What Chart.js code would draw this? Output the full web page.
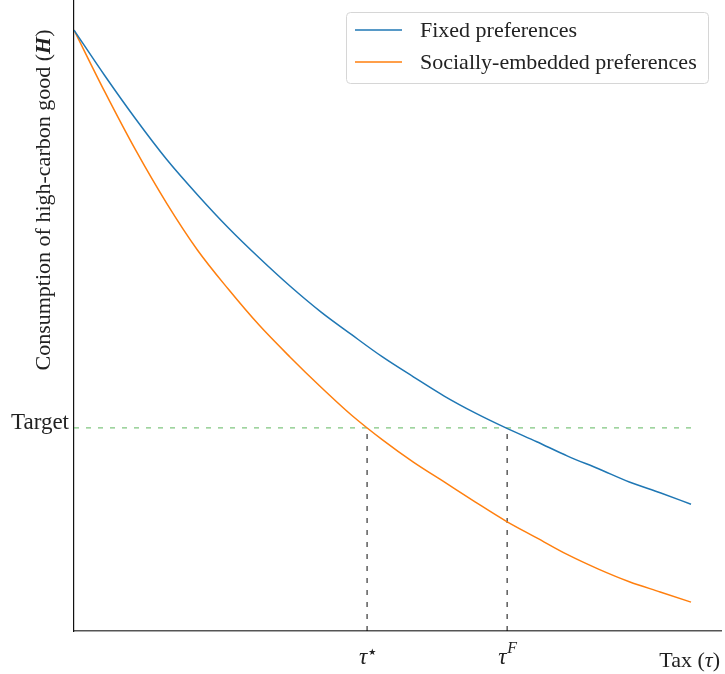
<!DOCTYPE html>
<html>
<head>
<meta charset="utf-8">
<script src="https://cdn.jsdelivr.net/npm/chart.js@4.4.1/dist/chart.umd.min.js"></script>
<style>
html,body{margin:0;padding:0;background:#fff;}
#wrap{width:725px;height:674px;}
</style>
</head>
<body>
<div id="wrap"><canvas id="c" width="725" height="674"></canvas></div>
<script>
// ---- data (tax tau normalised 0..1, consumption H normalised to 1 at tau=0)
const tax = [0,0.05,0.1,0.15,0.2,0.25,0.3,0.35,0.4,0.45,0.5,0.55,0.6,0.65,0.7,0.75,0.8,0.85,0.9,0.95,1.0];
const fixedPrefs = [1.000,0.924,0.852,0.785,0.726,0.671,0.621,0.574,0.531,0.493,0.456,0.423,0.391,0.363,0.338,0.315,0.291,0.270,0.248,0.230,0.211];
const socialPrefs = [1.000,0.897,0.800,0.712,0.634,0.569,0.509,0.456,0.406,0.359,0.318,0.281,0.248,0.215,0.183,0.155,0.127,0.103,0.082,0.065,0.048];
const target = 0.338;
const tauStar = 0.475;
const tauF = 0.702;
const seriesNames = ["Fixed preferences","Socially-embedded preferences"];
const xMax = 1.0486, yMax = 1.05;

const SERIF = '"Liberation Serif", "DejaVu Serif", serif';

function pts(xs, ys){ return xs.map((x,i)=>({x:x,y:ys[i]})); }

const annot = {
  id:'annot',
  afterDraw(chart){
    const ctx = chart.ctx, xs = chart.scales.x, ys = chart.scales.y, ca = chart.chartArea;
    ctx.save();
    ctx.fillStyle = '#222';
    // Target label
    ctx.font = '23px ' + SERIF;
    ctx.textAlign = 'right'; ctx.textBaseline = 'middle';
    ctx.fillText('Target', ca.left - 5, ys.getPixelForValue(target) - 5);
    // tau labels
    function tauLabel(x, sup, supFont, supDy){
      ctx.font = 'italic 23px ' + SERIF;
      const w1 = ctx.measureText('τ').width;
      ctx.font = supFont;
      const w2 = ctx.measureText(sup).width;
      const start = x - (w1 + w2)/2;
      ctx.textAlign = 'left'; ctx.textBaseline = 'alphabetic';
      ctx.font = 'italic 23px ' + SERIF;
      ctx.fillText('τ', start, 664);
      ctx.font = supFont;
      ctx.fillText(sup, start + w1 + 1, 664 + supDy);
    }
    tauLabel(xs.getPixelForValue(tauStar), '★', '9px "DejaVu Sans", sans-serif', -9);
    tauLabel(xs.getPixelForValue(tauF), 'F', 'italic 16px ' + SERIF, -11);
    // x title: Tax (tau)
    ctx.textBaseline = 'alphabetic'; ctx.textAlign = 'left';
    const parts = [['Tax (', '22px ' + SERIF], ['τ', 'italic 22px ' + SERIF], [')', '22px ' + SERIF]];
    let tw = 0; parts.forEach(p=>{ctx.font=p[1]; tw += ctx.measureText(p[0]).width;});
    let px = 720 - tw;
    parts.forEach(p=>{ctx.font=p[1]; ctx.fillText(p[0], px, 667); px += ctx.measureText(p[0]).width;});
    // y title
    ctx.translate(50, 200);
    ctx.rotate(-Math.PI/2);
    const yp = [['Consumption of high-carbon good (', '22px ' + SERIF], ['H', 'italic bold 22px ' + SERIF], [')', '22px ' + SERIF]];
    let yw = 0; yp.forEach(p=>{ctx.font=p[1]; yw += ctx.measureText(p[0]).width;});
    let qx = -yw/2;
    yp.forEach(p=>{ctx.font=p[1]; ctx.fillText(p[0], qx, 0); qx += ctx.measureText(p[0]).width;});
    ctx.restore();

    // legend
    ctx.save();
    const bx = 346.5, by = 12.5, bw = 362, bh = 71, r = 4;
    ctx.fillStyle = 'rgba(255,255,255,0.9)';
    ctx.strokeStyle = '#d6d6d6'; ctx.lineWidth = 1;
    ctx.beginPath();
    ctx.moveTo(bx+r,by); ctx.lineTo(bx+bw-r,by); ctx.quadraticCurveTo(bx+bw,by,bx+bw,by+r);
    ctx.lineTo(bx+bw,by+bh-r); ctx.quadraticCurveTo(bx+bw,by+bh,bx+bw-r,by+bh);
    ctx.lineTo(bx+r,by+bh); ctx.quadraticCurveTo(bx,by+bh,bx,by+bh-r);
    ctx.lineTo(bx,by+r); ctx.quadraticCurveTo(bx,by,bx+r,by); ctx.closePath();
    ctx.fill(); ctx.stroke();
    const items = chart.data.datasets.filter(d=>d.label);
    items.forEach((d,i)=>{
      const yy = 30 + i*32;
      ctx.strokeStyle = d.borderColor; ctx.lineWidth = 1.5;
      ctx.beginPath(); ctx.moveTo(355, yy); ctx.lineTo(402, yy); ctx.stroke();
      ctx.fillStyle = '#222'; ctx.font = '22px ' + SERIF;
      ctx.textAlign = 'left'; ctx.textBaseline = 'middle';
      ctx.fillText(d.label, 420, yy + 1);
    });
    ctx.restore();
  }
};

new Chart(document.getElementById('c'), {
  type: 'line',
  data: {
    datasets: [
      {label: seriesNames[0], data: pts(tax, fixedPrefs), borderColor:'#1f77b4', borderWidth:1.5, pointRadius:0, cubicInterpolationMode:'monotone', fill:false},
      {label: seriesNames[1], data: pts(tax, socialPrefs), borderColor:'#ff7f0e', borderWidth:1.5, pointRadius:0, cubicInterpolationMode:'monotone', fill:false},
      {label: '', data: [{x:0,y:target},{x:1,y:target}], borderColor:'rgba(44,160,44,0.6)', borderWidth:1.2, borderDash:[5,7], pointRadius:0, fill:false},
      {label: '', data: [{x:tauStar,y:0},{x:tauStar,y:target}], borderColor:'rgba(0,0,0,0.8)', borderWidth:1.2, borderDash:[5,7], pointRadius:0, fill:false},
      {label: '', data: [{x:tauF,y:0},{x:tauF,y:target}], borderColor:'rgba(0,0,0,0.8)', borderWidth:1.2, borderDash:[5,7], pointRadius:0, fill:false}
    ]
  },
  options: {
    responsive:false, animation:false, devicePixelRatio:1,
    layout:{padding:{left:74, right:4, top:0, bottom:43}},
    plugins:{legend:{display:false}, tooltip:{enabled:false}},
    scales:{
      x:{type:'linear', min:0, max:xMax, grid:{display:false, drawTicks:false}, ticks:{display:false}, border:{display:true, color:'#555', width:1.5}},
      y:{type:'linear', min:0, max:yMax, grid:{display:false, drawTicks:false}, ticks:{display:false}, border:{display:true, color:'#111', width:1.2}}
    }
  },
  plugins:[annot]
});
</script>
</body>
</html>
